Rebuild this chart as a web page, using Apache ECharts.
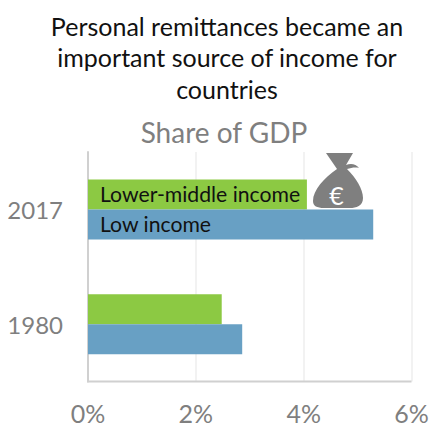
<!DOCTYPE html>
<html>
<head>
<meta charset="utf-8">
<style>html,body{margin:0;padding:0;background:#fff}#chart{width:430px;height:425px}</style>
<script src="https://cdn.jsdelivr.net/npm/echarts@6/dist/echarts.min.js"></script>
</head>
<body>
<div id="chart"></div>
<script>
// Remittances as a share of GDP, by country income group
const years = ['2017', '1980'];
const lowerMiddleIncome = [4.06, 2.48];
const lowIncome = [5.29, 2.86];
const xTicks = [0, 2, 4, 6];
const titleText = 'Personal remittances became an\nimportant source of income for\ncountries';
const subtitleText = 'Share of GDP';
const FONT = 'Lato, "Open Sans", sans-serif';

// Money bag outline, registered so the graphic component can draw it
echarts.graphic.registerShape('moneyBag', echarts.graphic.extendPath(
  'M326 153 H353 L346 165 C351 163 356 164 359 168 C355 167 351 168 347 169 C356 178 363 189 363 198 C363 206 356 208 350 208 H324 C317 208 313 206 313 201 C313 190 324 178 337 169 Z'
));

// Only the 2017 bar of each series carries the series name
function withNameLabel(values, name) {
  return values.map((value, i) => ({
    value,
    label: {
      show: i === 0, position: 'insideLeft', distance: 12,
      formatter: name, color: '#111', fontSize: 21.2, fontFamily: FONT
    }
  }));
}

const chart = echarts.init(document.getElementById('chart'), null, { renderer: 'svg' });
chart.setOption({
  animation: false,
  backgroundColor: '#fff',
  title: [
    { text: titleText, left: 222, top: 5, textAlign: 'center',
      textStyle: { color: '#111', fontSize: 25, fontWeight: 'normal', fontFamily: FONT, lineHeight: 31.5 } },
    { text: subtitleText, left: 219, top: 110, textAlign: 'center',
      textStyle: { color: '#7f7f7f', fontSize: 28, fontWeight: 'normal', fontFamily: FONT, lineHeight: 34 } }
  ],
  grid: { left: 88, right: 18.5, top: 152, bottom: 43.5, outerBoundsMode: 'none' },
  xAxis: {
    type: 'value', min: 0, max: 6, interval: 2, position: 'bottom',
    axisLine: { show: false }, axisTick: { show: false },
    splitLine: { show: true, lineStyle: { color: '#eeeeee', width: 1.5 } },
    axisLabel: {
      color: '#7f7f7f', fontSize: 25, lineHeight: 16, fontFamily: FONT, margin: 23,
      customValues: xTicks, formatter: v => v + '%'
    }
  },
  yAxis: {
    type: 'category', data: years, inverse: true,
    axisLine: { show: true, lineStyle: { color: '#d0d0d0', width: 2 } },
    axisTick: { show: false },
    axisLabel: { color: '#7f7f7f', fontSize: 24, fontFamily: FONT, margin: 25 }
  },
  series: [
    { name: 'Lower-middle income', type: 'bar', barWidth: 30, barGap: 0,
      itemStyle: { color: '#8cc943' },
      data: withNameLabel(lowerMiddleIncome, 'Lower-middle income') },
    { name: 'Low income', type: 'bar', barWidth: 30, barGap: 0,
      itemStyle: { color: '#68a0c4' },
      data: withNameLabel(lowIncome, 'Low income') }
  ],
  graphic: [
    // Bottom axis rule, running the full width of the plot
    { type: 'line', z: 5, shape: { x1: 87, y1: 381.5, x2: 411.5, y2: 381.5 },
      style: { stroke: '#d0d0d0', lineWidth: 2 } },
    // Money bag icon with a euro sign
    { type: 'moneyBag', z: 10, style: { fill: '#7f7f7f' } },
    { type: 'text', z: 11, x: 336.5, y: 195,
      style: { text: '€', fill: '#fff', font: '25px ' + FONT, textAlign: 'center', textVerticalAlign: 'middle' } }
  ]
});
</script>
</body>
</html>
